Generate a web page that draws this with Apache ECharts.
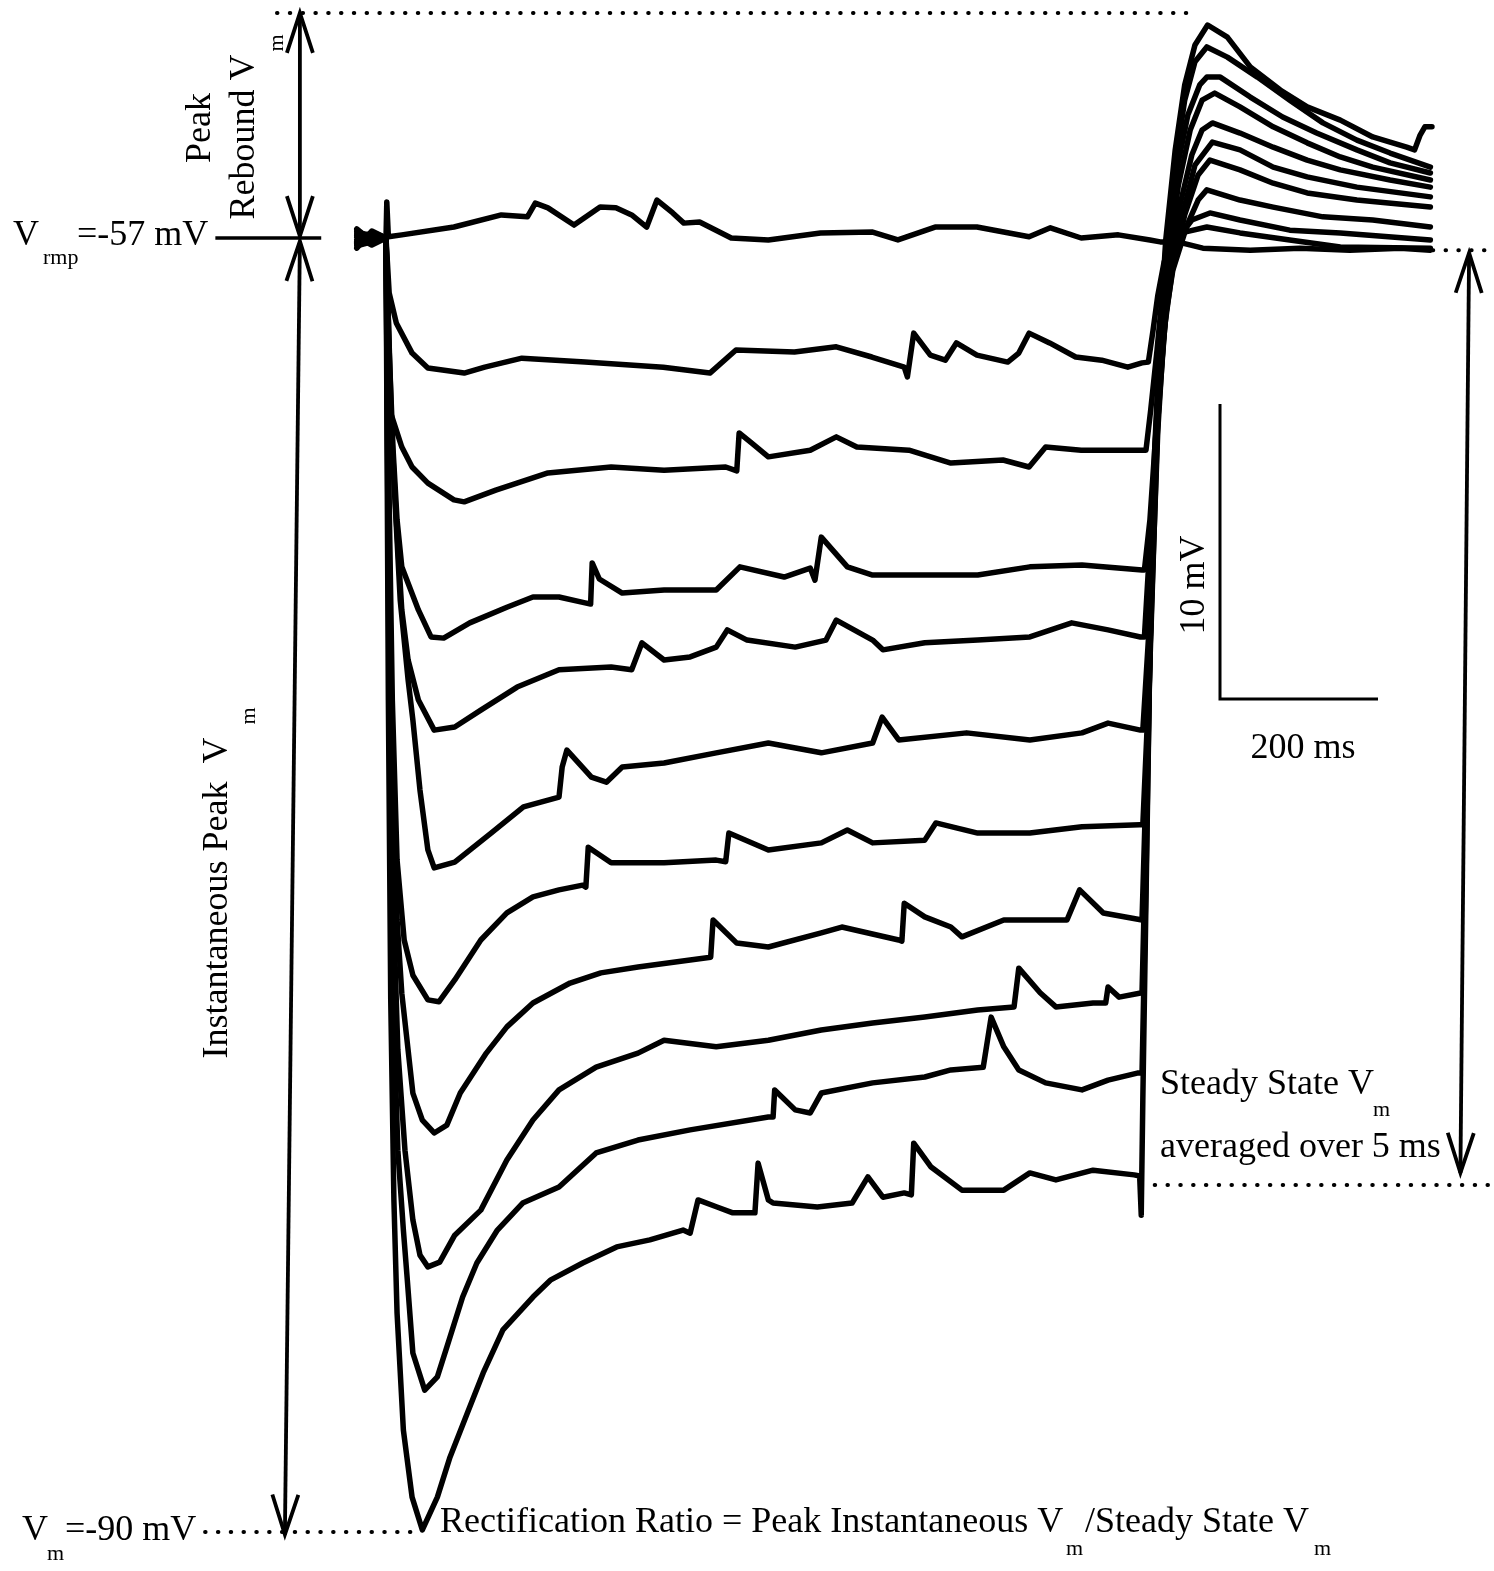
<!DOCTYPE html>
<html>
<head>
<meta charset="utf-8">
<script src="https://cdn.jsdelivr.net/npm/echarts@6/dist/echarts.min.js"></script>
<style>
  html, body { margin: 0; padding: 0; background: #fff; }
  #chart { width: 1494px; height: 1571px; }
</style>
</head>
<body>
<div id="chart"></div>
<script>
// Membrane potential sweeps, [time (ms from step onset), Vm (mV)].
// Resting sweep (no current injected).
const rest = [[-37,-57.05],[-27,-56.95],[-18,-57.05],[-8,-56.97],[0,-57.0],[1,-56.08],[3,-56.97],[20,-56.92],[86,-56.72],[146,-56.41],[179,-56.46],[189,-56.11],[205,-56.23],[238,-56.67],[271,-56.21],[291,-56.23],[311,-56.41],[330,-56.72],[343,-56.03],[363,-56.36],[377,-56.62],[397,-56.59],[437,-57.0],[484,-57.05],[550,-56.87],[616,-56.85],[648,-57.05],[695,-56.72],[748,-56.72],[814,-56.97],[841,-56.74],[880,-57.0],[927,-56.92],[967,-57.05],[980,-57.1],[1002,-57.1],[1034,-57.26],[1094,-57.31],[1157,-57.26],[1220,-57.31],[1284,-57.26],[1322,-57.31]];

// Hyperpolarizing current steps, smallest to largest.
const step1 = [[-37,-56.87],[-18,-56.92],[0,-57.0],[4,-58.40],[13,-59.17],[33,-59.94],[53,-60.32],[99,-60.45],[125,-60.30],[172,-60.07],[252,-60.17],[351,-60.30],[410,-60.45],[443,-59.86],[517,-59.91],[570,-59.78],[615,-60.04],[656,-60.30],[660,-60.55],[668,-59.43],[689,-59.99],[708,-60.12],[722,-59.68],[748,-59.99],[787,-60.17],[801,-59.94],[814,-59.43],[840,-59.68],[873,-60.04],[906,-60.12],[939,-60.30],[957,-60.19],[965,-60.17],[971,-59.35],[977,-58.46],[985,-57.61],[995,-57.13],[1011,-56.85],[1039,-56.72],[1081,-56.87],[1144,-57.05],[1208,-57.23],[1322,-57.26]];

const step2 = [[-37,-57.20],[-18,-57.10],[0,-57.0],[2,-59.35],[6,-61.47],[20,-62.34],[33,-62.85],[53,-63.26],[86,-63.69],[99,-63.74],[139,-63.44],[205,-63.00],[285,-62.85],[352,-62.93],[430,-62.85],[444,-62.95],[447,-61.98],[463,-62.24],[484,-62.59],[537,-62.42],[570,-62.08],[596,-62.34],[662,-62.42],[715,-62.75],[781,-62.67],[814,-62.85],[835,-62.34],[880,-62.42],[957,-62.42],[962,-62.42],[968,-61.39],[976,-59.86],[982,-58.58],[990,-57.69],[1003,-57.0],[1020,-56.54],[1043,-56.36],[1081,-56.54],[1144,-56.80],[1208,-56.87],[1322,-57.05]];

const step3 = [[-37,-56.82],[-18,-57.0],[0,-57.0],[4,-59.86],[9,-62.42],[14,-64.20],[20,-65.40],[41,-66.50],[57,-67.19],[73,-67.22],[106,-66.83],[153,-66.43],[186,-66.17],[219,-66.17],[252,-66.32],[259,-66.35],[261,-65.30],[270,-65.71],[299,-66.07],[352,-65.99],[418,-65.99],[448,-65.40],[504,-65.66],[537,-65.43],[543,-65.74],[551,-64.64],[584,-65.40],[616,-65.61],[682,-65.61],[749,-65.61],[815,-65.40],[881,-65.35],[957,-65.48],[960,-65.48],[967,-64.20],[973,-62.42],[979,-60.63],[987,-58.97],[996,-57.82],[1014,-56.67],[1028,-56.03],[1039,-55.77],[1081,-56.03],[1123,-56.21],[1186,-56.46],[1249,-56.54],[1322,-56.72]];

const step4 = [[-37,-57.15],[-18,-56.87],[0,-57.0],[5,-61.14],[13,-64.20],[20,-66.50],[28,-67.78],[41,-68.80],[61,-69.57],[87,-69.49],[120,-69.06],[166,-68.47],[219,-68.03],[285,-67.96],[311,-68.03],[324,-67.34],[352,-67.78],[385,-67.70],[418,-67.45],[432,-67.01],[457,-67.27],[518,-67.45],[557,-67.27],[570,-66.76],[616,-67.27],[629,-67.52],[682,-67.34],[749,-67.27],[815,-67.19],[868,-66.83],[914,-67.01],[955,-67.19],[960,-67.19],[965,-65.48],[972,-63.44],[978,-61.14],[986,-59.22],[995,-57.87],[1011,-56.41],[1028,-55.39],[1043,-55.01],[1081,-55.26],[1123,-55.60],[1166,-55.85],[1229,-56.03],[1322,-56.21]];

const step5 = [[-37,-56.77],[-18,-57.08],[0,-57.0],[8,-62.42],[18,-66.25],[28,-68.29],[34,-69.31],[43,-71.10],[53,-72.63],[61,-73.09],[87,-72.94],[133,-72.20],[174,-71.53],[219,-71.28],[223,-70.51],[229,-70.08],[260,-70.77],[279,-70.90],[299,-70.51],[352,-70.41],[418,-70.15],[484,-69.90],[551,-70.15],[616,-69.90],[628,-69.24],[649,-69.82],[735,-69.64],[815,-69.82],[881,-69.64],[914,-69.39],[955,-69.57],[958,-69.57],[965,-67.27],[971,-64.46],[977,-61.65],[985,-59.48],[992,-57.87],[1008,-56.41],[1024,-55.14],[1046,-54.55],[1081,-54.75],[1123,-55.19],[1166,-55.44],[1229,-55.70],[1322,-55.95]];

const step6 = [[-37,-57.26],[-18,-56.82],[0,-57.0],[4,-63.69],[8,-68.80],[14,-72.89],[23,-74.93],[34,-75.83],[53,-76.46],[67,-76.51],[87,-75.95],[120,-74.93],[153,-74.24],[186,-73.83],[219,-73.65],[249,-73.53],[253,-73.58],[256,-72.56],[285,-72.96],[352,-72.96],[418,-72.89],[430,-72.93],[434,-72.20],[484,-72.63],[551,-72.45],[584,-72.12],[616,-72.45],[682,-72.38],[696,-71.94],[749,-72.20],[815,-72.20],[881,-72.04],[954,-71.99],[958,-71.99],[965,-68.80],[971,-65.22],[977,-61.90],[984,-59.61],[991,-57.77],[1005,-56.16],[1020,-54.88],[1033,-54.24],[1046,-54.06],[1081,-54.32],[1123,-54.68],[1166,-55.01],[1208,-55.26],[1271,-55.52],[1322,-55.70]];

const step7 = [[-37,-56.92],[-18,-57.13],[0,-57.0],[4,-64.97],[8,-70.33],[14,-74.42],[20,-76.29],[34,-78.84],[46,-79.53],[61,-79.86],[77,-79.66],[94,-78.84],[127,-77.82],[153,-77.15],[186,-76.54],[233,-76.03],[272,-75.77],[319,-75.62],[385,-75.44],[411,-75.37],[414,-74.42],[444,-75.01],[484,-75.11],[551,-74.75],[577,-74.60],[649,-74.93],[653,-74.96],[656,-73.99],[682,-74.34],[715,-74.60],[729,-74.85],[782,-74.42],[862,-74.42],[878,-73.65],[908,-74.24],[957,-74.42],[963,-70.33],[970,-65.99],[976,-62.16],[982,-59.61],[990,-57.56],[1003,-55.65],[1018,-54.24],[1033,-53.48],[1049,-53.30],[1081,-53.65],[1123,-54.16],[1166,-54.57],[1208,-54.93],[1249,-55.19],[1322,-55.52]];

const step8 = [[-37,-57.10],[-18,-56.90],[0,-57.0],[4,-67.52],[9,-73.91],[15,-77.74],[24,-80.30],[34,-82.08],[43,-82.98],[53,-83.28],[68,-83.16],[87,-82.47],[120,-81.83],[153,-80.55],[186,-79.53],[219,-78.76],[266,-78.18],[319,-77.82],[352,-77.49],[418,-77.66],[484,-77.49],[551,-77.23],[616,-77.05],[682,-76.90],[749,-76.72],[795,-76.64],[801,-75.65],[828,-76.28],[848,-76.64],[895,-76.54],[911,-76.54],[914,-76.13],[928,-76.39],[957,-76.28],[963,-71.36],[968,-66.76],[975,-62.42],[981,-59.61],[989,-57.43],[1001,-55.26],[1015,-53.86],[1030,-53.09],[1039,-52.89],[1056,-52.89],[1094,-53.40],[1135,-53.91],[1178,-54.32],[1229,-54.75],[1271,-55.08],[1322,-55.34]];

const step9 = [[-37,-56.97],[-18,-57.18],[0,-57.0],[4,-68.80],[9,-76.46],[15,-80.30],[22,-82.34],[27,-83.62],[34,-85.48],[49,-86.43],[65,-86.09],[77,-85.33],[97,-84.05],[115,-83.18],[141,-82.34],[173,-81.65],[219,-81.24],[266,-80.37],[319,-80.04],[385,-79.78],[484,-79.45],[490,-79.45],[492,-78.76],[518,-79.27],[537,-79.35],[551,-78.84],[616,-78.58],[682,-78.43],[715,-78.25],[756,-78.18],[766,-76.90],[782,-77.66],[801,-78.25],[835,-78.58],[881,-78.76],[914,-78.51],[951,-78.33],[957,-78.33],[962,-73.40],[967,-67.52],[973,-62.67],[980,-59.61],[987,-57.31],[999,-55.14],[1011,-53.48],[1024,-52.50],[1039,-52.12],[1065,-52.38],[1103,-52.89],[1144,-53.48],[1186,-54.06],[1229,-54.50],[1271,-54.83],[1322,-55.19]];

const step10 = [[-37,-57.13],[-18,-56.85],[0,-57.0],[3,-68.80],[6,-76.46],[10,-81.57],[14,-84.46],[22,-87.45],[33,-89.16],[46,-90.0],[65,-89.16],[81,-88.14],[103,-87.01],[123,-85.99],[148,-84.89],[186,-84.05],[208,-83.62],[249,-83.18],[292,-82.77],[334,-82.59],[376,-82.34],[385,-82.42],[395,-81.57],[419,-81.75],[439,-81.90],[467,-81.90],[471,-80.63],[484,-81.57],[490,-81.65],[546,-81.75],[590,-81.65],[610,-80.98],[629,-81.50],[656,-81.39],[665,-81.44],[668,-80.12],[690,-80.73],[729,-81.32],[782,-81.32],[815,-80.88],[848,-81.06],[895,-80.81],[947,-80.93],[954,-80.96],[956,-81.96],[958,-79.02],[962,-73.91],[967,-67.52],[973,-62.42],[980,-59.35],[987,-57.05],[999,-54.75],[1011,-53.09],[1024,-52.07],[1040,-51.56],[1065,-51.87],[1094,-52.63],[1132,-53.22],[1166,-53.65],[1208,-53.99],[1249,-54.42],[1292,-54.68],[1302,-54.75],[1309,-54.37],[1315,-54.16],[1324,-54.16]];

const sweeps = [rest, step1, step2, step3, step4, step5, step6, step7, step8, step9, step10];

// Reference levels: [t start, t end, Vm].
const dottedLevels = [
  [-138, 1028, -51.25],   // peak rebound
  [1325, 1403, -57.31],   // resting level, right side
  [973, 1403, -81.19],    // steady state
  [-229, 43, -90.05]      // instantaneous peak
];
const restMark = [[-216, -82, -57.0]];

// Double-headed measurement arrows: [t1, Vm1, t2, Vm2].
const arrowSpans = [
  [-109, -51.25, -109, -56.95],
  [-109, -57.08, -128, -90.12],
  [1371, -57.38, 1360, -80.88]
];

const FONT = '"Liberation Serif", "Times New Roman", serif';

function chevron(tip, from, len, half) {
  const dx = tip[0] - from[0], dy = tip[1] - from[1];
  const d = Math.hypot(dx, dy) || 1;
  const ux = dx / d, uy = dy / d;
  const bx = tip[0] - ux * len, by = tip[1] - uy * len;
  return [[bx - uy * half, by + ux * half], [tip[0], tip[1]], [bx + uy * half, by - ux * half]];
}

function txt(text, x, y, size, opts) {
  opts = opts || {};
  const align = opts.align || 'left';
  return {
    type: 'text', x: x, y: y, rotation: opts.rotation || 0, silent: true,
    style: {
      text: text, font: size + 'px ' + FONT, fill: '#000',
      align: align, verticalAlign: 'middle',
      textAlign: align, textVerticalAlign: 'middle'
    }
  };
}

const traceSeries = sweeps.map(function (d, i) {
  return {
    type: 'line', name: 'sweep' + i, data: d, showSymbol: false, symbol: 'none',
    smooth: false, clip: false, silent: true,
    lineStyle: { color: '#000', width: 5.5, join: 'round', cap: 'round' },
    z: 3
  };
});

const chart = echarts.init(document.getElementById('chart'), null, { renderer: 'canvas' });

chart.setOption({
  animation: false,
  backgroundColor: '#fff',
  grid: { left: 0, right: 0, top: 0, bottom: 0, containLabel: false },
  xAxis: { type: 'value', min: -488.61, max: 1402.53, show: false },
  yAxis: { type: 'value', min: -91.048, max: -50.921, show: false },
  series: traceSeries.concat([
    {
      type: 'custom', name: 'levels', data: dottedLevels, silent: true, z: 2,
      encode: { x: [0, 1], y: 2 },
      renderItem: function (params, api) {
        const a = api.coord([api.value(0), api.value(2)]);
        const b = api.coord([api.value(1), api.value(2)]);
        return {
          type: 'line', shape: { x1: a[0], y1: a[1], x2: b[0], y2: b[1] },
          style: { stroke: '#000', lineWidth: 4, lineDash: [0.5, 12.3], lineCap: 'round', fill: null }
        };
      }
    },
    {
      type: 'custom', name: 'restMark', data: restMark, silent: true, z: 2,
      encode: { x: [0, 1], y: 2 },
      renderItem: function (params, api) {
        const a = api.coord([api.value(0), api.value(2)]);
        const b = api.coord([api.value(1), api.value(2)]);
        return {
          type: 'line', shape: { x1: a[0], y1: a[1], x2: b[0], y2: b[1] },
          style: { stroke: '#000', lineWidth: 3.5, fill: null }
        };
      }
    },
    {
      type: 'custom', name: 'arrows', data: arrowSpans, silent: true, z: 2,
      encode: { x: [0, 2], y: [1, 3] },
      renderItem: function (params, api) {
        const a = api.coord([api.value(0), api.value(1)]);
        const b = api.coord([api.value(2), api.value(3)]);
        const st = { stroke: '#000', lineWidth: 3.8, fill: null, lineJoin: 'miter' };
        return {
          type: 'group', children: [
            { type: 'line', shape: { x1: a[0], y1: a[1], x2: b[0], y2: b[1] }, style: st },
            { type: 'polyline', shape: { points: chevron(a, b, 40, 13) }, style: st },
            { type: 'polyline', shape: { points: chevron(b, a, 40, 13) }, style: st }
          ]
        };
      }
    }
  ]),
  graphic: [
    // scale bar
    { type: 'polyline', silent: true, shape: { points: [[1220, 404], [1220, 699], [1378, 699]] },
      style: { stroke: '#000', lineWidth: 3, fill: null } },
    txt('10 mV', 1195, 585, 36, { align: 'center', rotation: Math.PI / 2 }),
    txt('200 ms', 1303, 749, 36, { align: 'center' }),

    // resting potential label
    txt('V', 13, 236, 36),
    txt('rmp', 43, 258, 22),
    txt('=-57 mV', 77, 236, 36),

    // hyperpolarized level label
    txt('V', 22, 1531, 36),
    txt('m', 47, 1554, 22),
    txt('=-90 mV', 65, 1531, 36),

    // peak rebound label
    txt('Peak', 201, 128, 36, { align: 'center', rotation: Math.PI / 2 }),
    txt('Rebound V', 245, 137, 36, { align: 'center', rotation: Math.PI / 2 }),
    txt('m', 277, 43, 22, { align: 'center', rotation: Math.PI / 2 }),

    // instantaneous peak label
    txt('Instantaneous Peak  V', 218, 898, 36, { align: 'center', rotation: Math.PI / 2 }),
    txt('m', 249, 716, 22, { align: 'center', rotation: Math.PI / 2 }),

    // steady state label
    txt('Steady State V', 1160, 1085, 36),
    txt('m', 1373, 1110, 22),
    txt('averaged over 5 ms', 1160, 1148, 36),

    // ratio definition
    txt('Rectification Ratio = Peak Instantaneous V', 440, 1523, 36),
    txt('m', 1066, 1549, 22),
    txt('/Steady State V', 1085, 1523, 36),
    txt('m', 1314, 1549, 22)
  ]
});
</script>
</body>
</html>
